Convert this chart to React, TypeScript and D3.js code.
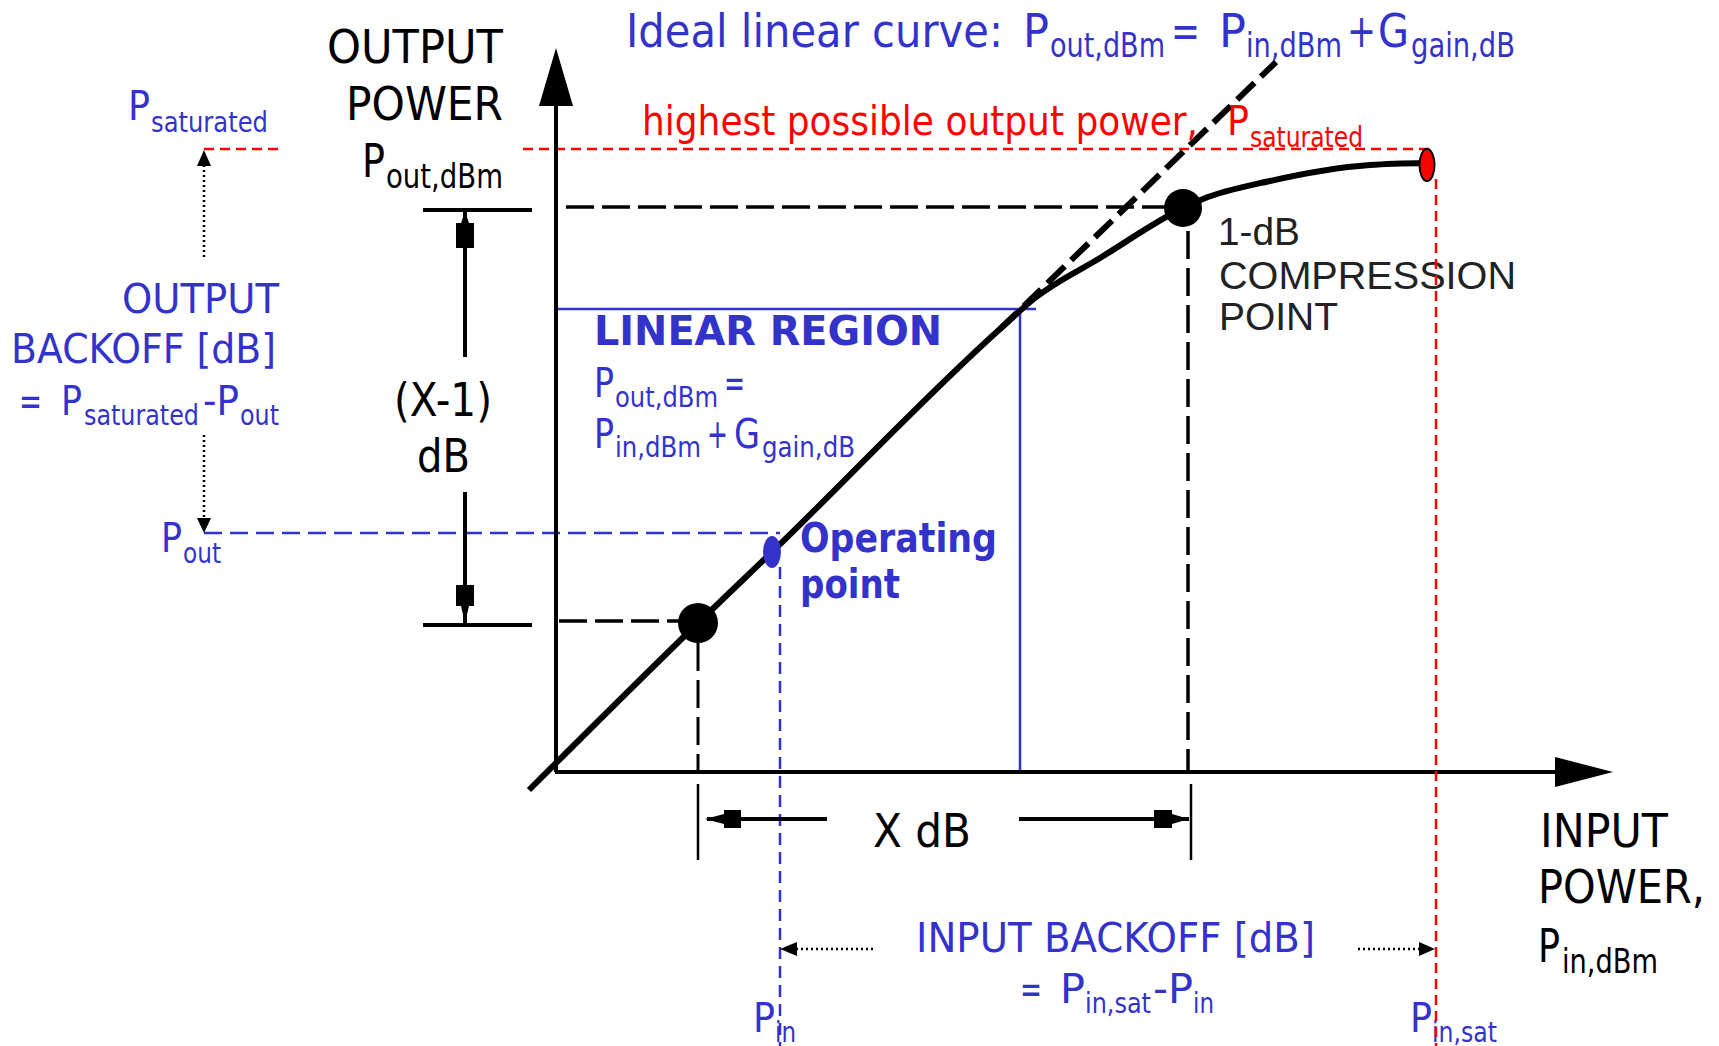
import React from "react";
import * as d3 from "d3";

// ---- data (abstract power units: input on x, output on y) ----
const curveIn = [-2.6, 14.3, 21.7, 44.5, 48.0, 54.5, 62.8, 64.8, 71.5, 81.5, 87.2];
const curveOut = [-1.8, 14.9, 22.0, 44.3, 47.4, 51.4, 56.4, 57.3, 59.1, 60.7, 60.9];
const idealIn = [44.5, 72.1];
const idealOut = [44.3, 71.0];
// markers: low reference point, operating point, 1-dB compression, saturation
const markIn = [14.3, 21.7, 62.8, 87.2];
const markOut = [14.9, 22.0, 56.4, 60.7];
// reference levels
const pSat = 62.3;
const pOutOp = 23.9;
const pInOp = 22.5;
const pInSat = 88.1;
const compIn = 63.3;
const compOut = 56.5;
const lowIn = 14.3;
const lowOut = 15.1;
const linIn = 46.5;
const linOut = 46.3;

const BLUE = "#3333cc";
const RED = "#ff0000";
const FONT = "'DejaVu Sans', Verdana, sans-serif";
const ARIAL = "'Liberation Sans', Arial, sans-serif";

type Seg = [string, number, number, boolean?];

function Rich({ y, size, fill, segs, bold = false, family = FONT, subDy = 0.25, subScale = 0.72 }: any) {
  return (
    <g fill={fill} fontFamily={family} fontWeight={bold ? "bold" : "normal"}>
      {(segs as Seg[]).map(([t, x, w, sub], i) => (
        <text
          key={i}
          x={x}
          y={sub ? y + size * subDy : y}
          fontSize={sub ? size * subScale : size}
          textLength={w}
          lengthAdjust="spacingAndGlyphs"
          style={{ whiteSpace: "pre" }}
        >
          {t}
        </text>
      ))}
    </g>
  );
}

const pts = (a: number[][]) => a.map((p) => p.join(",")).join(" ");

export default function App() {
  const x = d3.scaleLinear().domain([0, 100]).range([555, 1555]);
  const y = d3.scaleLinear().domain([0, 70]).range([772, 72]);

  const curve = d3
    .line<number>()
    .x((_, i) => x(curveIn[i]))
    .y((d) => y(d))
    .curve(d3.curveMonotoneX)(curveOut) as string;
  const ideal = d3
    .line<number>()
    .x((_, i) => x(idealIn[i]))
    .y((d) => y(d))(idealOut) as string;

  const x0 = x(0);
  const y0 = y(0);
  const dimX = 465;

  return (
    <svg
      width={1719}
      height={1046}
      style={{ position: "absolute", left: 0, top: 0, display: "block", background: "#fff" }}
    >
      <rect width={1719} height={1046} fill="#fff" />

      {/* blue linear region box */}
      <line x1={x0 + 2} x2={x(linIn) + 16} y1={y(linOut)} y2={y(linOut)} stroke={BLUE} strokeWidth={2.5} />
      <line x1={x(linIn)} x2={x(linIn)} y1={y(linOut)} y2={y0} stroke={BLUE} strokeWidth={2.5} />

      {/* blue dashed operating point references */}
      <line x1={204} x2={x(pInOp)} y1={y(pOutOp)} y2={y(pOutOp)} stroke={BLUE} strokeWidth={2.5} strokeDasharray="18 8" />
      <line x1={x(pInOp)} x2={x(pInOp)} y1={y(pOutOp) + 34} y2={1046} stroke={BLUE} strokeWidth={2.5} strokeDasharray="12 7" />

      {/* red saturation references */}
      <line x1={204} x2={283} y1={y(pSat)} y2={y(pSat)} stroke={RED} strokeWidth={2.5} strokeDasharray="10 6" />
      <line x1={523} x2={x(pInSat) - 4} y1={y(pSat)} y2={y(pSat)} stroke={RED} strokeWidth={2.5} strokeDasharray="10 6" />

      {/* black dashed references */}
      <line x1={x0 + 11} x2={x(markIn[2])} y1={y(compOut)} y2={y(compOut)} stroke="#000" strokeWidth={3.5} strokeDasharray="28 8" />
      <line x1={x0 + 4} x2={x(markIn[0])} y1={y(lowOut)} y2={y(lowOut)} stroke="#000" strokeWidth={3.5} strokeDasharray="28 8" />
      <line x1={x(compIn)} x2={x(compIn)} y1={y(compOut) + 24} y2={y0} stroke="#000" strokeWidth={3.5} strokeDasharray="28 9" />
      <line x1={x(lowIn)} x2={x(lowIn)} y1={y(lowOut) + 22} y2={y0} stroke="#000" strokeWidth={3} strokeDasharray="28 9" />

      {/* axes */}
      <line x1={x0 + 1} x2={x0 + 1} y1={y0} y2={60} stroke="#000" strokeWidth={4} />
      <polygon points={pts([[x0 + 1, 48], [x0 + 18, 106], [x0 - 16, 106]])} fill="#000" />
      <line x1={x0} x2={1560} y1={y0} y2={y0} stroke="#000" strokeWidth={4} />
      <polygon points={pts([[1613, y0], [1555, y0 - 15], [1555, y0 + 15]])} fill="#000" />

      {/* ideal linear (dashed) and real curve */}
      <path d={ideal} fill="none" stroke="#000" strokeWidth={6} strokeDasharray="24 9" />
      <path d={curve} fill="none" stroke="#000" strokeWidth={6} />

      {/* markers */}
      <circle cx={x(markIn[0])} cy={y(markOut[0])} r={20} fill="#000" />
      <ellipse cx={x(markIn[1])} cy={y(markOut[1])} rx={9} ry={16} fill={BLUE} />
      <circle cx={x(markIn[2])} cy={y(markOut[2])} r={19} fill="#000" />
      <ellipse cx={x(markIn[3])} cy={y(markOut[3])} rx={7.5} ry={16} fill={RED} stroke="#000" strokeWidth={2} />

      {/* (X-1) dB dimension */}
      <line x1={423} x2={532} y1={y(compOut) + 3} y2={y(compOut) + 3} stroke="#000" strokeWidth={4} />
      <line x1={423} x2={532} y1={y(lowOut) + 4} y2={y(lowOut) + 4} stroke="#000" strokeWidth={4} />
      <line x1={dimX} x2={dimX} y1={y(compOut) + 3} y2={357} stroke="#000" strokeWidth={4} />
      <line x1={dimX} x2={dimX} y1={492} y2={y(lowOut) + 4} stroke="#000" strokeWidth={4} />
      <polygon points={pts([[465, 211], [469, 223], [474, 223], [474, 248], [456, 248], [456, 223], [461, 223]])} fill="#000" />
      <polygon points={pts([[465, 623], [469, 606], [474, 606], [474, 585], [456, 585], [456, 606], [461, 606]])} fill="#000" />

      {/* X dB dimension */}
      <line x1={x(lowIn)} x2={x(lowIn)} y1={784} y2={860} stroke="#000" strokeWidth={2.5} />
      <line x1={x(compIn) + 3} x2={x(compIn) + 3} y1={784} y2={860} stroke="#000" strokeWidth={2.5} />
      <line x1={707} x2={827} y1={819} y2={819} stroke="#000" strokeWidth={4} />
      <line x1={1019} x2={1189} y1={819} y2={819} stroke="#000" strokeWidth={4} />
      <polygon points={pts([[705, 819], [724, 814], [724, 810], [741, 810], [741, 828], [724, 828], [724, 824]])} fill="#000" />
      <polygon points={pts([[1189, 819], [1172, 814], [1172, 810], [1154, 810], [1154, 828], [1172, 828], [1172, 824]])} fill="#000" />

      {/* dotted backoff arrows */}
      <g stroke="#000" strokeWidth={2.5} strokeDasharray="2 3">
        <line x1={204} x2={204} y1={165} y2={260} />
        <line x1={204} x2={204} y1={435} y2={518} />
        <line x1={796} x2={874} y1={949} y2={949} />
        <line x1={1358} x2={1420} y1={949} y2={949} />
      </g>
      <polygon points={pts([[204, y(pSat) + 1], [211, 166], [197, 166]])} fill="#000" />
      <polygon points={pts([[204, y(pOutOp)], [211, 518], [197, 518]])} fill="#000" />
      <polygon points={pts([[x(pInOp), 949], [797, 942], [797, 956]])} fill="#000" />
      <polygon points={pts([[x(pInSat) - 1, 949], [1419, 942], [1419, 956]])} fill="#000" />

      {/* ---- text ---- */}
      <Rich y={47} size={46} fill={BLUE} subDy={0.22}
        segs={[["Ideal linear curve:", 626, 377], ["P", 1023, 26], ["out,dBm", 1050, 115, true], ["=", 1171, 29], ["P", 1219, 27], ["in,dBm", 1246, 96, true], ["+", 1347, 29], ["G", 1378, 31], ["gain,dB", 1411, 104, true]]} />

      <Rich y={135} size={40} fill={RED} subDy={0.3}
        segs={[["highest possible output power,", 642, 556], ["P", 1227, 22], ["saturated", 1250, 113, true]]} />

      <Rich y={63} size={46} fill="#000" segs={[["OUTPUT", 327, 176]]} />
      <Rich y={120} size={46} fill="#000" segs={[["POWER", 346, 157]]} />
      <Rich y={177} size={46} fill="#000" subDy={0.24} segs={[["P", 362, 23], ["out,dBm", 386, 117, true]]} />

      <Rich y={120} size={40} fill={BLUE} subDy={0.3} segs={[["P", 128, 22], ["saturated", 151, 117, true]]} />

      <Rich y={313} size={40} fill={BLUE} segs={[["OUTPUT", 122, 157]]} />
      <Rich y={363} size={40} fill={BLUE} segs={[["BACKOFF [dB]", 11, 265]]} />
      <Rich y={415} size={40} fill={BLUE} subDy={0.25}
        segs={[["=", 19, 23], ["P", 61, 21], ["saturated", 84, 115, true], ["-P", 203, 36], ["out", 240, 39, true]]} />

      <Rich y={416} size={46} fill="#000" segs={[["(X-1)", 394, 98]]} />
      <Rich y={472} size={46} fill="#000" segs={[["dB", 417, 53]]} />

      <Rich y={552} size={40} fill={BLUE} subDy={0.28} segs={[["P", 161, 21], ["out", 183, 38, true]]} />

      <Rich y={345} size={41} fill={BLUE} bold segs={[["LINEAR REGION", 594, 348]]} />
      <Rich y={397} size={40} fill={BLUE} subDy={0.25}
        segs={[["P", 594, 20], ["out,dBm", 615, 103, true], ["=", 724, 21]]} />
      <Rich y={448} size={40} fill={BLUE} subDy={0.23}
        segs={[["P", 594, 20], ["in,dBm", 615, 86, true], ["+", 707, 21], ["G", 734, 26], ["gain,dB", 762, 93, true]]} />

      <Rich y={552} size={40} fill={BLUE} bold segs={[["Operating", 800, 197]]} />
      <Rich y={598} size={40} fill={BLUE} bold segs={[["point", 800, 100]]} />

      <Rich y={245} size={39} fill="#222" family={ARIAL} segs={[["1-dB", 1218, 82]]} />
      <Rich y={289} size={39} fill="#222" family={ARIAL} segs={[["COMPRESSION", 1219, 297]]} />
      <Rich y={330} size={39} fill="#222" family={ARIAL} segs={[["POINT", 1219, 119]]} />

      <Rich y={847} size={46} fill="#000" segs={[["X dB", 873, 98]]} />

      <Rich y={952} size={40} fill={BLUE} segs={[["INPUT BACKOFF [dB]", 916, 399]]} />
      <Rich y={1003} size={40} fill={BLUE} subDy={0.25}
        segs={[["=", 1020, 22], ["P", 1060, 25], ["in,sat", 1085, 66, true], ["-P", 1153, 40], ["in", 1193, 21, true]]} />

      <Rich y={1032} size={40} fill={BLUE} subDy={0.25} segs={[["P", 753, 22], ["in", 775, 21, true]]} />
      <Rich y={1032} size={40} fill={BLUE} subDy={0.25} segs={[["P", 1410, 22], ["in,sat", 1432, 65, true]]} />

      <Rich y={847} size={46} fill="#000" segs={[["INPUT", 1540, 128]]} />
      <Rich y={903} size={46} fill="#000" segs={[["POWER,", 1538, 167]]} />
      <Rich y={962} size={46} fill="#000" subDy={0.24} segs={[["P", 1538, 22], ["in,dBm", 1562, 96, true]]} />

      {/* red vertical saturation line on top */}
      <line x1={x(pInSat)} x2={x(pInSat)} y1={y(markOut[3]) + 14} y2={1046} stroke={RED} strokeWidth={2.5} strokeDasharray="10 6" />
    </svg>
  );
}
